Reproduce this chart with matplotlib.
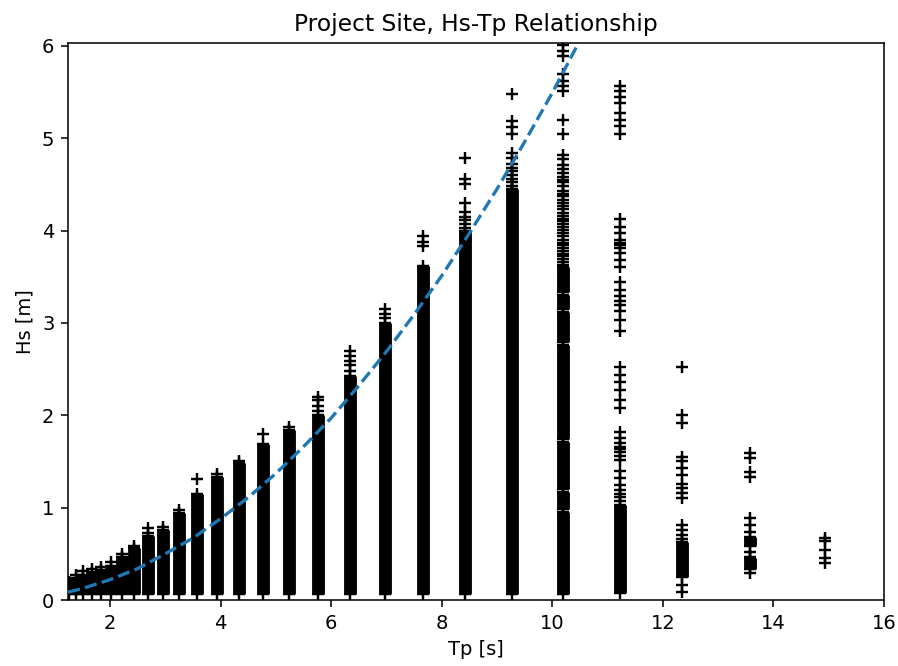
import matplotlib
matplotlib.use('Agg')
import matplotlib.pyplot as plt

# Tp bins holding one solid block of Hs readings, bottom/top of each block [m]
col_tp = [1.25, 1.38, 1.52, 1.67, 1.84, 2.02, 2.22, 2.44, 2.69, 2.96, 3.25,
          3.58, 3.94, 4.33, 4.76, 5.24, 5.76, 6.34, 6.97, 7.67, 8.43, 9.28,
          11.22, 12.35, 13.58, 13.58]
col_lo = [0.06, 0.06, 0.06, 0.06, 0.06, 0.06, 0.06, 0.06, 0.06, 0.06, 0.06,
          0.06, 0.06, 0.06, 0.06, 0.06, 0.06, 0.06, 0.06, 0.06, 0.06, 0.06,
          0.08, 0.25, 0.34, 0.58]
col_hi = [0.20, 0.24, 0.27, 0.30, 0.33, 0.37, 0.47, 0.56, 0.69, 0.76, 0.94,
          1.15, 1.33, 1.48, 1.69, 1.84, 2.00, 2.42, 3.00, 3.62, 4.00, 4.45,
          1.03, 0.63, 0.45, 0.68]

# Tp = 10.2 s bin is broken into several blocks
blk_lo_102 = [0.06, 0.98, 1.20, 1.74, 2.79, 3.15, 3.33]
blk_hi_102 = [0.95, 1.17, 1.71, 2.76, 3.12, 3.30, 3.60]

# single readings sitting above the blocks of the shorter bins
cap_tp = [1.38, 1.52, 1.67, 1.84, 2.02, 2.22, 2.44, 2.69, 2.69, 2.96, 3.25,
          3.58, 3.94, 4.33, 4.76, 5.24, 5.76, 5.76, 5.76, 5.76, 6.34, 6.34,
          6.34, 6.34, 6.34, 6.97, 6.97, 6.97, 7.67, 7.67, 7.67]
cap_hs = [0.27, 0.31, 0.34, 0.36, 0.41, 0.50, 0.59, 0.73, 0.78, 0.79, 0.97,
          1.31, 1.36, 1.51, 1.80, 1.87, 2.05, 2.10, 2.16, 2.20, 2.48, 2.54,
          2.59, 2.64, 2.70, 3.05, 3.10, 3.15, 3.83, 3.88, 3.94]

hs_843 = [4.03, 4.07, 4.11, 4.15, 4.20, 4.30, 4.50, 4.56, 4.79]
hs_928 = [4.48, 4.52, 4.56, 4.60, 4.64, 4.68, 4.72, 4.78, 4.84, 5.05,
          5.12, 5.19, 5.48]
hs_1020 = [3.63, 3.66, 3.69, 3.72, 3.75, 3.78, 3.81, 3.84, 3.86, 3.90,
           3.94, 3.97, 4.01, 4.04, 4.07, 4.10, 4.13, 4.16, 4.19, 4.23,
           4.26, 4.30, 4.33, 4.37, 4.40, 4.43, 4.48, 4.52, 4.55, 4.58,
           4.62, 4.67, 4.71, 4.77, 4.82, 5.04, 5.20, 5.51, 5.56, 5.62,
           5.69, 5.89, 5.94, 6.01]
hs_1122 = [1.07, 1.11, 1.15, 1.19, 1.25, 1.32, 1.40, 1.52, 1.56, 1.60,
           1.63, 1.66, 1.70, 1.75, 1.82, 2.08, 2.17, 2.27, 2.36, 2.44, 2.52,
           2.91, 3.03, 3.13, 3.19, 3.24, 3.29, 3.36, 3.44, 3.61, 3.68, 3.76,
           3.81, 3.84, 3.87, 3.90, 3.97, 4.04, 4.12, 5.04, 5.13, 5.20, 5.27,
           5.38, 5.45, 5.51, 5.56]
hs_1235 = [0.09, 0.16, 0.66, 0.70, 0.76, 0.81, 1.10, 1.16, 1.21, 1.26, 1.35,
           1.43, 1.50, 1.55, 1.92, 2.00, 2.52]
hs_1358 = [0.29, 0.47, 0.52, 0.74, 0.81, 0.89, 1.33, 1.39, 1.54, 1.59]
hs_1494 = [0.40, 0.45, 0.54, 0.64, 0.67]

# steepness-limit curve
curve_tp = [1.24, 1.5, 2.0, 2.5, 3.0, 3.5, 4.0, 4.5, 5.0, 5.5, 6.0, 6.5, 7.0,
            7.5, 8.0, 8.5, 9.0, 9.5, 10.0, 10.5, 10.7]
curve_hs = [0.085, 0.124, 0.22, 0.34, 0.50, 0.67, 0.88, 1.11, 1.37, 1.66,
            1.97, 2.32, 2.69, 3.09, 3.51, 3.97, 4.45, 4.96, 5.49, 6.06, 6.30]

MS = 6.6   # marker size in points, also the width of the solid blocks
MEW = 1.25

fig, ax = plt.subplots(figsize=(898 / 140, 666 / 140), dpi=140)
fig.subplots_adjust(left=68 / 898, right=884 / 898, bottom=66 / 666,
                    top=1 - 43 / 666)

blk_tp = [10.2] * len(blk_lo_102)
all_tp = col_tp + blk_tp
all_lo = col_lo + blk_lo_102
all_hi = col_hi + blk_hi_102
ax.vlines(all_tp, all_lo, all_hi, colors='k', linewidth=MS,
          capstyle='butt')
ax.plot(all_tp + all_tp, all_lo + all_hi, 'k+', ms=MS, mew=MEW)

ax.plot(cap_tp, cap_hs, 'k+', ms=MS, mew=MEW)
for t, hs in [(8.43, hs_843), (9.28, hs_928), (10.2, hs_1020),
              (11.22, hs_1122), (12.35, hs_1235), (13.58, hs_1358),
              (14.94, hs_1494)]:
    ax.plot([t] * len(hs), hs, 'k+', ms=MS, mew=MEW)

ax.plot(curve_tp, curve_hs, '--', color='C0', lw=1.7, zorder=5)

ax.set_xlim(1.24, 16)
ax.set_ylim(0, 6.03)
ax.set_xlabel('Tp [s]')
ax.set_ylabel('Hs [m]')
ax.set_title('Project Site, Hs-Tp Relationship')

fig.savefig('out.png', dpi=140)
